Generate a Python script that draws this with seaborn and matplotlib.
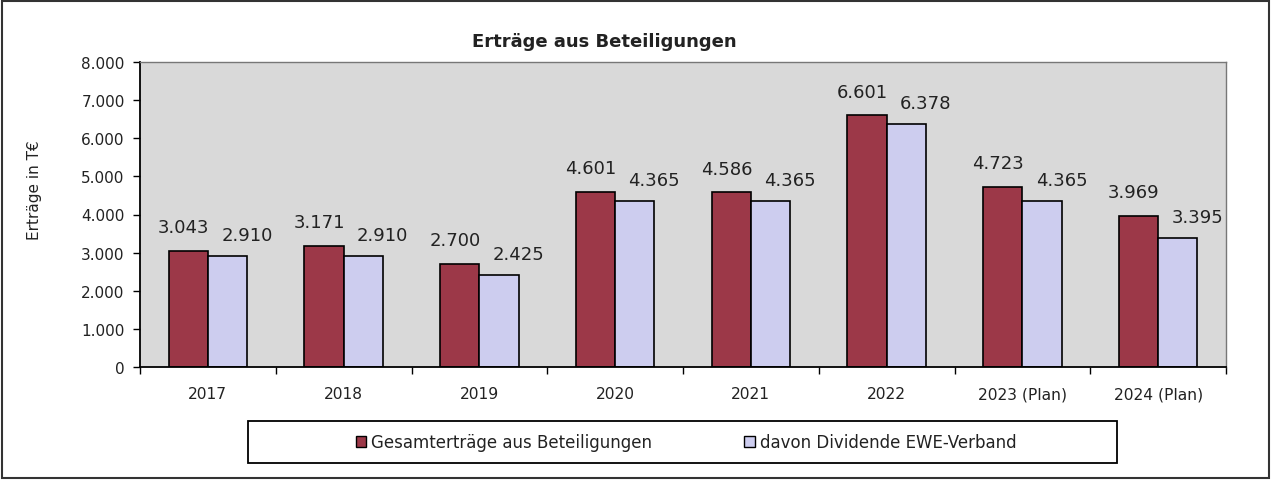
import matplotlib
matplotlib.use("Agg")
import matplotlib.pyplot as plt
from matplotlib.patches import Rectangle, Patch
from matplotlib.ticker import FixedLocator, FuncFormatter
import seaborn as sns
import pandas as pd

categories = ["2017", "2018", "2019", "2020", "2021", "2022", "2023 (Plan)", "2024 (Plan)"]
gesamt = [3043, 3171, 2700, 4601, 4586, 6601, 4723, 3969]
dividende = [2910, 2910, 2425, 4365, 4365, 6378, 4365, 3395]
series_names = ["Gesamterträge aus Beteiligungen", "davon Dividende EWE-Verband"]
yticks = [0, 1000, 2000, 3000, 4000, 5000, 6000, 7000, 8000]
title = "Erträge aus Beteiligungen"
ylabel = "Erträge in T€"

colors = ["#9c3848", "#cdcdef"]

df = pd.DataFrame({
    "Jahr": categories * 2,
    "Wert": gesamt + dividende,
    "Serie": [series_names[0]] * len(categories) + [series_names[1]] * len(categories),
})

sns.set_theme(style="white")
plt.rcParams["font.family"] = ["DejaVu Sans"]

W, H = 1271, 481
fig = plt.figure(figsize=(W / 100, H / 100), dpi=100)
L, R, T, B = 140, 1226, 63, 368
ax = fig.add_axes([L / W, 1 - B / H, (R - L) / W, (B - T) / H])

sns.barplot(data=df, x="Jahr", y="Wert", hue="Serie", hue_order=series_names,
            order=categories, palette=colors, width=0.58, gap=0,
            edgecolor="black", linewidth=1.2, saturation=1, legend=False, ax=ax)

ax.set_facecolor("#d9d9d9")
ax.set_ylim(0, 8000)
ax.set_xlim(-0.5, len(categories) - 0.5)
ax.yaxis.set_major_locator(FixedLocator(yticks))
fmt = lambda v, p=None: f"{v:,.0f}".replace(",", ".")
ax.yaxis.set_major_formatter(FuncFormatter(fmt))
ax.set_xlabel("")
ax.set_ylabel(ylabel, fontsize=11, color="#222222")
ax.yaxis.set_label_coords(-0.090, 0.584)

# category boundary ticks on x axis
ax.set_xticks([i - 0.5 for i in range(len(categories) + 1)], minor=False)
ax.set_xticklabels([])
ax.set_xticks(range(len(categories)), minor=True)
ax.set_xticklabels(categories, minor=True, fontsize=11.2, color="#222222")
ax.tick_params(axis="x", which="major", direction="out", length=5, width=1, color="black", bottom=True)
ax.tick_params(axis="x", which="minor", length=0, pad=14)
ax.tick_params(axis="y", direction="out", length=5, width=1, color="black", left=True,
               labelsize=11, labelcolor="#222222", pad=6)

for s in ["left", "bottom"]:
    ax.spines[s].set_color("black")
    ax.spines[s].set_linewidth(1.3)
for s in ["top", "right"]:
    ax.spines[s].set_color("#777777")
    ax.spines[s].set_linewidth(1.0)

# value labels
for ci, cont in enumerate(ax.containers):
    vals = gesamt if ci == 0 else dividende
    dx = -3.5 if ci == 0 else 14
    dy = 17 if ci == 0 else 15
    for bar, v in zip(cont, vals):
        ax.annotate(fmt(v), (bar.get_x() + bar.get_width() / 2, bar.get_height()),
                    xytext=(dx, dy), textcoords="offset points", ha="center", va="center",
                    fontsize=13, color="#222222")

fig.text(604 / W, 1 - 42 / H, title, ha="center", va="center", fontsize=13,
         fontweight="bold", color="#222222")

# legend box
fig.add_artist(Rectangle((248 / W, 1 - 464 / H), (1117 - 248) / W, (464 - 422) / H,
                         transform=fig.transFigure, facecolor="white", edgecolor="black",
                         linewidth=1.3))
handles = [Patch(facecolor=c, edgecolor="black", linewidth=1.0) for c in colors]
fig.legend(handles, series_names, loc="center", bbox_to_anchor=(686 / W, 1 - 443 / H),
           ncol=2, frameon=False, fontsize=12, handlelength=0.65, handleheight=0.65,
           handletextpad=0.3, columnspacing=5.5, labelcolor="#222222")

# outer border
fig.add_artist(Rectangle((2 / W, 2 / H), (W - 4) / W, (H - 4) / H, transform=fig.transFigure,
                         facecolor="none", edgecolor="#333333", linewidth=1.5))

fig.savefig("out.png", dpi=100, facecolor="white")
